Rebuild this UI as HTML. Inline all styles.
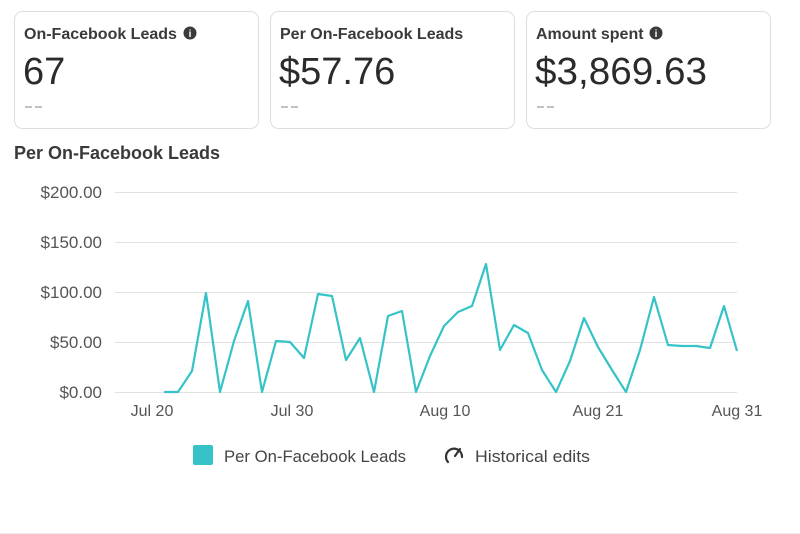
<!DOCTYPE html>
<html><head><meta charset="utf-8"><style>
html,body{margin:0;padding:0;background:#fff;width:800px;height:534px;overflow:hidden}
svg{display:block;font-family:"Liberation Sans",sans-serif}
</style></head><body>
<svg width="800" height="534" viewBox="0 0 800 534">
<g fill="#fff" stroke="#dedede" stroke-width="1">
<rect x="14.5" y="11.5" width="244" height="117" rx="8"/>
<rect x="270.5" y="11.5" width="244" height="117" rx="8"/>
<rect x="526.5" y="11.5" width="244" height="117" rx="8"/>
</g>
<g font-size="16" font-weight="bold" fill="#3a3a3a">
<text x="24" y="39">On-Facebook Leads</text>
<text x="280" y="39">Per On-Facebook Leads</text>
<text x="536" y="39">Amount spent</text>
</g>
<g fill="#3a3a3a"><circle cx="190" cy="33" r="6.5"/><circle cx="656" cy="33" r="6.5"/></g>
<g fill="#fff" font-size="10" font-weight="bold" text-anchor="middle"><text x="190" y="37">i</text><text x="656" y="37">i</text></g>
<g font-size="38" fill="#2b2b2b">
<text x="23" y="84">67</text>
<text x="279" y="84">$57.76</text>
<text x="535" y="84" textLength="172" lengthAdjust="spacingAndGlyphs">$3,869.63</text>
</g>
<g stroke="#999" stroke-width="1.2">
<line x1="25" y1="107" x2="32" y2="107"/><line x1="35" y1="107" x2="42" y2="107"/>
<line x1="281" y1="107" x2="288" y2="107"/><line x1="291" y1="107" x2="298" y2="107"/>
<line x1="537" y1="107" x2="544" y2="107"/><line x1="547" y1="107" x2="554" y2="107"/>
</g>
<text x="14" y="159" font-size="18" font-weight="bold" fill="#3a3a3a">Per On-Facebook Leads</text>
<g stroke="#e2e2e2" stroke-width="1">
<line x1="115" y1="192.5" x2="737" y2="192.5"/>
<line x1="115" y1="242.5" x2="737" y2="242.5"/>
<line x1="115" y1="292.5" x2="737" y2="292.5"/>
<line x1="115" y1="342.5" x2="737" y2="342.5"/>
<line x1="115" y1="392.5" x2="737" y2="392.5"/>
</g>
<g font-size="17" fill="#555" text-anchor="end">
<text x="102" y="198">$200.00</text>
<text x="102" y="248">$150.00</text>
<text x="102" y="298">$100.00</text>
<text x="102" y="348">$50.00</text>
<text x="102" y="398">$0.00</text>
</g>
<g font-size="16" fill="#555" text-anchor="middle">
<text x="152" y="416">Jul 20</text>
<text x="292" y="416">Jul 30</text>
<text x="445" y="416">Aug 10</text>
<text x="598" y="416">Aug 21</text>
<text x="737" y="416">Aug 31</text>
</g>
<polyline fill="none" stroke="#35c3c7" stroke-width="2.2" stroke-linejoin="round" points="164,392 178,392 192,371 206,293 220,392 234,341 248,301 262,392 276,341 290,342 304,358 318,294 332,296 346,360 360,338 374,392 388,316 402,311 416,392 430,356 444,326 458,312 472,306 486,264 500,350 514,325 528,333 542,370 556,392 570,361 584,318 598,347 612,370 626,392 640,350 654,297 668,345 682,346 696,346 710,348 724,306 737,351"/>
<rect x="193" y="445" width="20" height="20" rx="2" fill="#35c3c7"/>
<text x="224" y="462" font-size="17" fill="#444" textLength="182" lengthAdjust="spacingAndGlyphs">Per On-Facebook Leads</text>
<g fill="none" stroke="#333" stroke-width="2.2" stroke-linecap="round">
<path d="M448,462 A8,8 0 1 1 462,457"/>
<line x1="455" y1="456" x2="460" y2="449"/>
</g>
<text x="475" y="462" font-size="17" fill="#444" textLength="115" lengthAdjust="spacingAndGlyphs">Historical edits</text>
<line x1="0" y1="533.5" x2="800" y2="533.5" stroke="#eee"/>
</svg>
</body></html>
